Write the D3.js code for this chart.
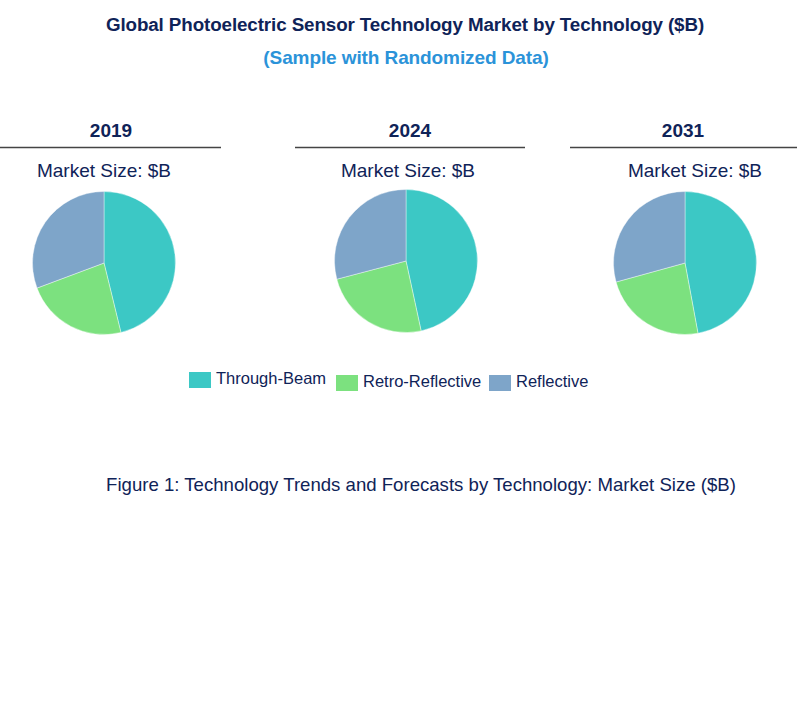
<!DOCTYPE html>
<html>
<head>
<meta charset="utf-8">
<script src="https://cdn.jsdelivr.net/npm/d3@7"></script>
<style>
  body { margin: 0; background: #fff; }
  text { font-family: "Liberation Sans", Arial, sans-serif; }
</style>
</head>
<body>
<div id="chart"></div>
<script>
// data
var technologies = ["Through-Beam", "Retro-Reflective", "Reflective"];
var years = ["2019", "2024", "2031"];
var values2019 = [4.62, 2.31, 3.07];
var values2024 = [6.52, 3.40, 4.07];
var values2031 = [9.89, 4.96, 6.15];
var seriesByYear = [values2019, values2024, values2031];
var colors = ["#3cc8c5", "#7ce17f", "#7ea5c9"];

var width = 797, height = 703;
var navy = "#0f2358";

var svg = d3.select("#chart")
  .append("svg")
    .attr("width", width)
    .attr("height", height);

// titles
svg.append("text")
    .attr("x", 405).attr("y", 31)
    .attr("text-anchor", "middle")
    .style("font-size", "18.8px").style("font-weight", "bold")
    .style("letter-spacing", "-0.1px")
    .style("fill", navy)
    .text("Global Photoelectric Sensor Technology Market by Technology ($B)");

svg.append("text")
    .attr("x", 406).attr("y", 64)
    .attr("text-anchor", "middle")
    .style("font-size", "19px").style("font-weight", "bold")
    .style("letter-spacing", "-0.1px")
    .style("fill", "#2b93d9")
    .text("(Sample with Randomized Data)");

// panel layout: header line span, year label x, subtitle x, pie centre x
var panels = [
  {x0: 0,   x1: 221, yearX: 111, subX: 104, cx: 104, cy: 263},
  {x0: 295, x1: 525, yearX: 410, subX: 408, cx: 406, cy: 261},
  {x0: 570, x1: 797, yearX: 683, subX: 695, cx: 685, cy: 263}
];
var radius = 71.5;

var pie = d3.pie().sort(null).value(function(d) { return d; });
var arc = d3.arc().innerRadius(0).outerRadius(radius);

panels.forEach(function(p, i) {
  var g = svg.append("g");

  g.append("text")
      .attr("x", p.yearX).attr("y", 137)
      .attr("text-anchor", "middle")
      .style("font-size", "19px").style("font-weight", "bold")
      .style("fill", navy)
      .text(years[i]);

  g.append("line")
      .attr("x1", p.x0).attr("x2", p.x1)
      .attr("y1", 147.5).attr("y2", 147.5)
      .style("stroke", "#444").style("stroke-width", 1.3);

  g.append("text")
      .attr("x", p.subX).attr("y", 177)
      .attr("text-anchor", "middle")
      .style("font-size", "19px")
      .style("fill", navy)
      .text("Market Size: $B");

  g.append("g")
      .attr("transform", "translate(" + p.cx + "," + p.cy + ")")
    .selectAll("path")
    .data(pie(seriesByYear[i]))
    .enter()
    .append("path")
      .attr("d", arc)
      .style("fill", function(d, j) { return colors[j]; })
      .style("stroke", "#fff")
      .style("stroke-width", 0.4);
});

// legend
var legendX = [189, 336, 489];
var legendY = [372, 375, 375];
var legend = svg.append("g");
technologies.forEach(function(t, i) {
  legend.append("rect")
      .attr("x", legendX[i]).attr("y", legendY[i])
      .attr("width", 22).attr("height", 16)
      .style("fill", colors[i]);
  legend.append("text")
      .attr("x", legendX[i] + 27).attr("y", legendY[i] + 8)
      .attr("dominant-baseline", "middle")
      .style("font-size", "16.5px")
      .style("fill", navy)
      .text(t);
});

// caption
svg.append("text")
    .attr("x", 421).attr("y", 491)
    .attr("text-anchor", "middle")
    .style("font-size", "18.6px")
    .style("fill", navy)
    .text("Figure 1: Technology Trends and Forecasts by Technology: Market Size ($B)");
</script>
</body>
</html>
